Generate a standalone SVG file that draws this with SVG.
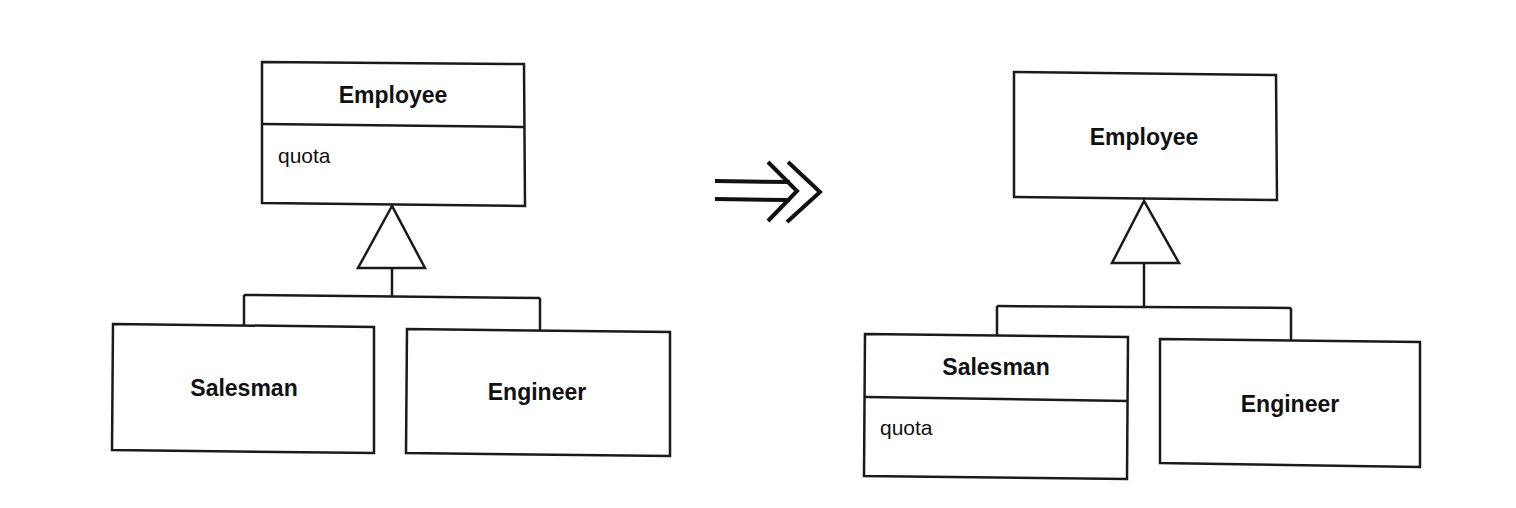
<svg xmlns="http://www.w3.org/2000/svg" width="1516" height="508" viewBox="0 0 1516 508">
  <style>
    .box { fill: #fff; stroke: #1a1a1a; stroke-width: 2.5; stroke-linejoin: miter; }
    .line { fill: none; stroke: #1a1a1a; stroke-width: 2.5; }
    .tri { fill: #fff; stroke: #1a1a1a; stroke-width: 2.5; stroke-linejoin: miter; }
    .name { font-family: "Liberation Sans", Arial, sans-serif; font-weight: bold; font-size: 23px; fill: #111; text-anchor: middle; }
    .attr { font-family: "Liberation Sans", Arial, sans-serif; font-size: 21px; fill: #111; }
    .arrow { fill: none; stroke: #111; stroke-width: 4; stroke-linecap: butt; stroke-linejoin: miter; }
  </style>
  <rect width="1516" height="508" fill="#fff"/>

  <g id="connectors">
    <!-- left diagram -->
    <polygon class="tri" points="392,206 358,268 425,268"/>
    <path class="line" d="M392,268 L392,296"/>
    <path class="line" d="M244,295 L540,298"/>
    <path class="line" d="M244,295 L244,325"/>
    <path class="line" d="M540,298 L540,330"/>
    <!-- right diagram -->
    <polygon class="tri" points="1144,201 1112,263 1179,263"/>
    <path class="line" d="M1144,263 L1144,307"/>
    <path class="line" d="M997,306 L1291,308"/>
    <path class="line" d="M997,306 L997,335"/>
    <path class="line" d="M1291,308 L1291,340"/>
  </g>

  <g id="refactor-arrow">
    <path class="arrow" d="M715,181 L790,182"/>
    <path class="arrow" d="M715,199 L790,200"/>
    <path class="arrow" d="M768,162 L797,191 L768,221"/>
    <path class="arrow" d="M788,162 L820,192 L787,222"/>
  </g>

  <g id="employee-left">
    <polygon class="box" points="262,62 524,64 525,206 262,203"/>
    <path class="line" d="M262,124 L524,127"/>
    <text class="name" x="393" y="103">Employee</text>
    <text class="attr" x="278" y="163">quota</text>
  </g>

  <g id="salesman-left">
    <polygon class="box" points="113,324 374,327 374,453 112,450"/>
    <text class="name" x="244" y="396">Salesman</text>
  </g>

  <g id="engineer-left">
    <polygon class="box" points="407,329 670,332 670,456 406,453"/>
    <text class="name" x="537" y="400">Engineer</text>
  </g>

  <g id="employee-right">
    <polygon class="box" points="1014,72 1276,75 1277,200 1014,197"/>
    <text class="name" x="1144" y="145">Employee</text>
  </g>

  <g id="salesman-right">
    <polygon class="box" points="865,334 1128,337 1127,479 864,476"/>
    <path class="line" d="M865,397 L1128,401"/>
    <text class="name" x="996" y="375">Salesman</text>
    <text class="attr" x="880" y="435">quota</text>
  </g>

  <g id="engineer-right">
    <polygon class="box" points="1160,339 1420,342 1420,467 1160,463"/>
    <text class="name" x="1290" y="412">Engineer</text>
  </g>
</svg>
